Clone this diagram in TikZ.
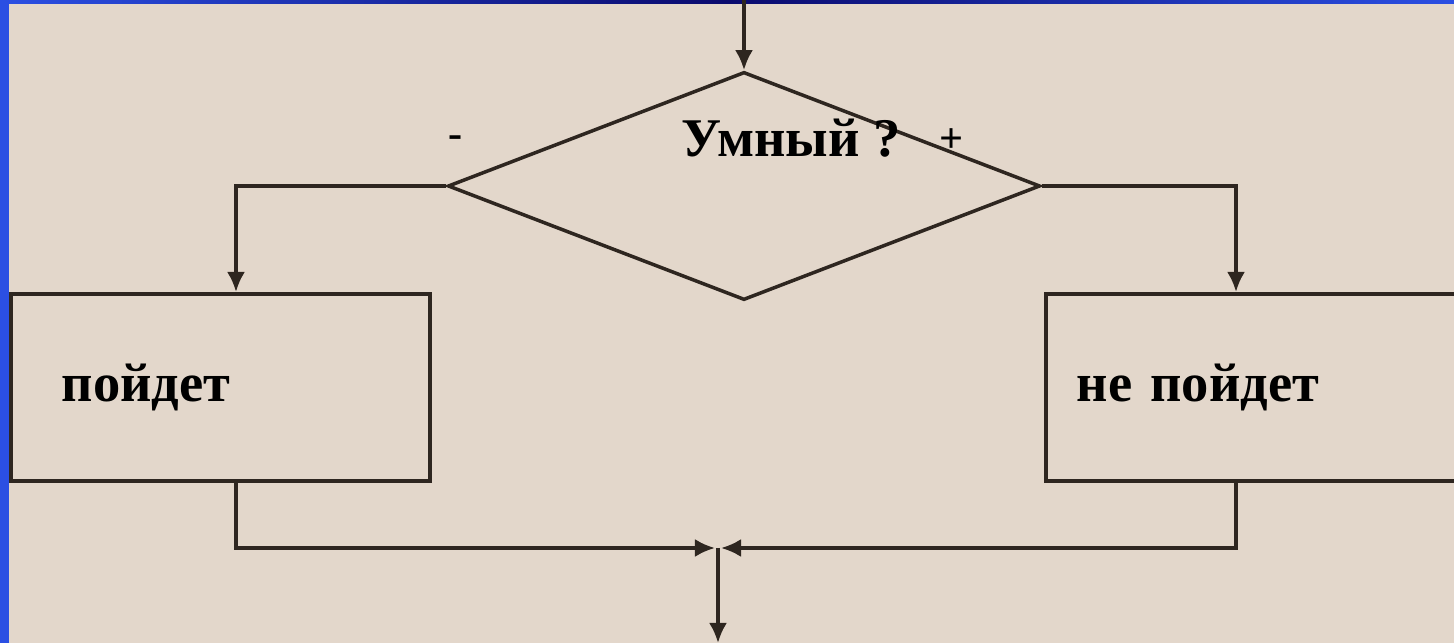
\documentclass[tikz,border=0pt]{standalone}
\usepackage{fontspec}
\setmainfont{Liberation Serif}
\usetikzlibrary{shapes.geometric,arrows.meta}
\usepackage{xcolor}
\definecolor{paper}{HTML}{E3D7CB}
\definecolor{frameblue}{HTML}{2B4FE3}
\definecolor{navy}{HTML}{0A0A6E}
\definecolor{ink}{HTML}{2E2620}
\tikzset{
  flow/.style={draw=ink,line width=1pt},
  arr/.style={flow,-{Latex[length=2mm,width=1.8mm]}},
  decision/.style={shape=diamond,draw=ink,line width=1pt,inner sep=0pt,minimum width=5.92cm,minimum height=2.28cm},
  box/.style={draw=ink,line width=1pt,fill=paper,anchor=north west,minimum height=1.87cm,align=left,font=\fontsize{15.5}{18}\selectfont\bfseries},
  signlabel/.style={font=\fontsize{12}{14}\selectfont\bfseries,inner sep=0pt}
}

\begin{document}
\begin{tikzpicture}[x=0.01cm,y=-0.01cm]
\useasboundingbox (0,0) rectangle (1454,643);
\clip (0,0) rectangle (1454,643);
\fill[paper] (0,0) rectangle (1454,643);
\fill[frameblue] (0,0) rectangle (9,643);
\shade[left color=frameblue,right color=frameblue,middle color=navy] (0,0) rectangle (1454,4);

\node[decision] (ask) at (744,186) {};
\node[font=\fontsize{15.5}{18}\selectfont\bfseries,anchor=base west,inner sep=0pt] (askt) at (681,157) {Умный ?};
\node[signlabel] (minus) at (456,142) {-};
\node[signlabel] (plus) at (952,141) {+};

\node[box,inner xsep=0.51cm,text width=3.17cm] (go) at (9,292) {пойдет};
\node[box,inner xsep=0.31cm,text width=3.57cm] (nogo) at (1044,292) {не пойдет};

\coordinate (entry) at (744,0);
\coordinate (lcol) at (236,0);
\coordinate (rcol) at (1236,0);
\coordinate (lmeet) at (715,548);
\coordinate (rmeet) at (721,548);
\coordinate (merge) at (718,548);
\coordinate (exit) at (718,643);

\draw[arr] (entry) -- (ask.north);
\draw[arr] (ask.west) -| (lcol |- go.north);
\draw[arr] (ask.east) -| (rcol |- nogo.north);
\draw[arr] (lcol |- go.south) |- (lmeet);
\draw[arr] (rcol |- nogo.south) |- (rmeet);
\draw[arr] (merge) -- (exit);
\end{tikzpicture}
\end{document}
